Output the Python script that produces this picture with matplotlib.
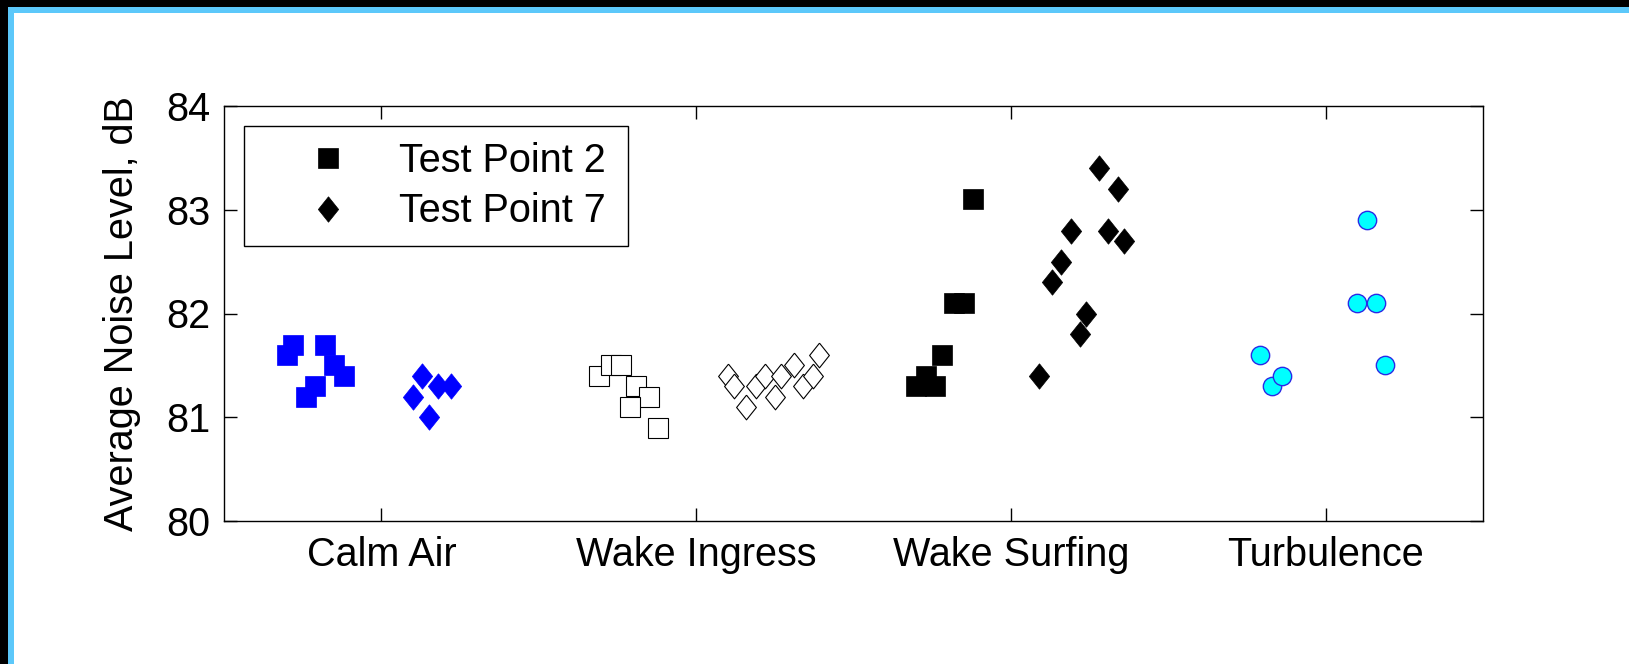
import matplotlib
matplotlib.use("Agg")
import matplotlib.pyplot as plt
from matplotlib.patches import Rectangle

plt.rcParams['font.family'] = ['Liberation Sans', 'DejaVu Sans']

categories = ["Calm Air", "Wake Ingress", "Wake Surfing", "Turbulence"]
cat_pos = [1, 2, 3, 4]

# Calm Air (blue, filled)
calm_tp2_x = [0.70, 0.72, 0.82, 0.85, 0.88, 0.79, 0.76]
calm_tp2_y = [81.6, 81.7, 81.7, 81.5, 81.4, 81.3, 81.2]
calm_tp7_x = [1.10, 1.13, 1.15, 1.18, 1.22]
calm_tp7_y = [81.2, 81.4, 81.0, 81.3, 81.3]

# Wake Ingress (open markers)
ingress_tp2_x = [1.69, 1.73, 1.76, 1.81, 1.85, 1.79, 1.88]
ingress_tp2_y = [81.4, 81.5, 81.5, 81.3, 81.2, 81.1, 80.9]
ingress_tp7_x = [2.10, 2.12, 2.16, 2.19, 2.22, 2.25, 2.27, 2.31, 2.34, 2.37, 2.39]
ingress_tp7_y = [81.4, 81.3, 81.1, 81.3, 81.4, 81.2, 81.4, 81.5, 81.3, 81.4, 81.6]

# Wake Surfing (black, filled)
surf_tp2_x = [2.70, 2.73, 2.76, 2.78, 2.82, 2.85, 2.88]
surf_tp2_y = [81.3, 81.4, 81.3, 81.6, 82.1, 82.1, 83.1]
surf_tp7_x = [3.09, 3.13, 3.16, 3.19, 3.22, 3.24, 3.28, 3.31, 3.34, 3.36]
surf_tp7_y = [81.4, 82.3, 82.5, 82.8, 81.8, 82.0, 83.4, 82.8, 83.2, 82.7]

# Turbulence (cyan circles)
turb_a_x = [3.79, 3.83, 3.86]
turb_a_y = [81.6, 81.3, 81.4]
turb_b_x = [4.10, 4.13, 4.16, 4.19]
turb_b_y = [82.1, 82.9, 82.1, 81.5]

yticks = [80, 81, 82, 83, 84]

# matlab-like diamond, a bit taller than wide
diamond = [(0, 1), (0.8, 0), (0, -1), (-0.8, 0), (0, 1)]

W, H = 1629, 664
FS = 28.5
fig = plt.figure(figsize=(W / 100, H / 100), dpi=100)

# slide frame: black edge then light blue strip, top and left only
fig.add_artist(Rectangle((0, 1 - 7 / H), 1, 7 / H, transform=fig.transFigure, color="black", lw=0))
fig.add_artist(Rectangle((0, 1 - 13 / H), 1, 6 / H, transform=fig.transFigure, color="#5CC8FA", lw=0))
fig.add_artist(Rectangle((0, 0), 8 / W, 1, transform=fig.transFigure, color="black", lw=0))
fig.add_artist(Rectangle((8 / W, 0), 6 / W, 1 - 7 / H, transform=fig.transFigure, color="#5CC8FA", lw=0))

ax = fig.add_axes([224 / W, 1 - 521 / H, (1483 - 224) / W, (521 - 106) / H])

sq = dict(marker="s", ms=14.6, mew=0.5, ls="none")
dm = dict(marker=diamond, ms=18.3, mew=0.5, ls="none")

ax.plot(calm_tp2_x, calm_tp2_y, color="blue", **sq)
ax.plot(calm_tp7_x, calm_tp7_y, color="blue", **dm)

ax.plot(ingress_tp2_x, ingress_tp2_y, mfc="white", mec="black", **dict(sq, mew=0.8, ms=14.0))
ax.plot(ingress_tp7_x, ingress_tp7_y, mfc="white", mec="black", **dict(dm, mew=0.8, ms=17.8))

ax.plot(surf_tp2_x, surf_tp2_y, color="black", label="Test Point 2", **sq)
ax.plot(surf_tp7_x, surf_tp7_y, color="black", label="Test Point 7", **dm)

ax.plot(turb_a_x, turb_a_y, marker="o", ms=13.2, mfc="cyan", mec="#2a2ae6", mew=1.0, ls="none")
ax.plot(turb_b_x, turb_b_y, marker="o", ms=13.2, mfc="cyan", mec="#2a2ae6", mew=1.0, ls="none")

ax.set_xlim(0.5, 4.5)
ax.set_ylim(80, 84)
ax.set_xticks(cat_pos)
ax.set_xticklabels(categories)
ax.set_yticks(yticks)
ax.set_yticklabels([str(v) for v in yticks])
ax.tick_params(direction="in", length=9.5, width=1.0, top=True, right=True,
               labelsize=FS, pad=10)
ax.tick_params(axis="x", pad=11)
for s in ax.spines.values():
    s.set_linewidth(1.0)

ax.set_ylabel("Average Noise Level, dB", fontsize=FS, labelpad=18)

leg = ax.legend(loc="upper left", bbox_to_anchor=(0.016, 0.67, 0.305, 0.282),
                mode="expand", borderaxespad=0, fontsize=FS, frameon=True,
                fancybox=False, framealpha=1, edgecolor="black",
                borderpad=0.4, labelspacing=0.32, handlelength=3.45,
                handletextpad=0.05, numpoints=1)
leg.get_frame().set_linewidth(1.0)

fig.savefig("out.png", dpi=100)
